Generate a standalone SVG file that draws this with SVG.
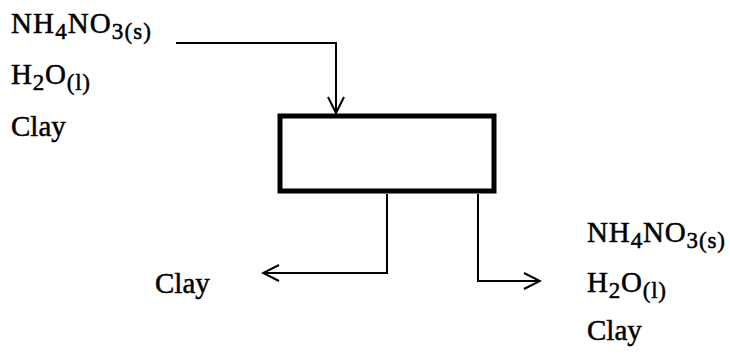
<svg xmlns="http://www.w3.org/2000/svg" width="730" height="360" viewBox="0 0 730 360">
  <defs>
    <style>
      .lbl { font-family: "Liberation Serif", "Times New Roman", serif; font-size: 29px; fill: #000; stroke: #000; stroke-width: 0.5; }
      .sub { font-size: 23px; }
      .flow { fill: none; stroke: #000; stroke-width: 2; }
      .unit { fill: #fff; stroke: #000; stroke-width: 5; }
    </style>
    <marker id="arrow" viewBox="0 0 20 20" refX="18" refY="10" markerWidth="20" markerHeight="20" markerUnits="userSpaceOnUse" orient="auto">
      <path d="M2,2 L18,10 L2,18" fill="none" stroke="#000" stroke-width="2"/>
    </marker>
  </defs>

  <rect width="730" height="360" fill="#fff"/>

  <!-- feed stream labels -->
  <g id="feed">
    <text class="lbl" x="11" y="33" textLength="140" lengthAdjust="spacing">NH<tspan class="sub" dy="6">4</tspan><tspan dy="-6">NO</tspan><tspan class="sub" dy="6">3(s)</tspan></text>
    <text class="lbl" x="11" y="84" textLength="79" lengthAdjust="spacing">H<tspan class="sub" dy="6">2</tspan><tspan dy="-6">O</tspan><tspan class="sub" dy="6">(l)</tspan></text>
    <text class="lbl" x="11" y="136">Clay</text>
  </g>

  <!-- process unit -->
  <g id="unit">
    <rect class="unit" x="280" y="116" width="214" height="75"/>
  </g>

  <!-- clay product -->
  <g id="clay-out">
    <text class="lbl" x="155" y="293">Clay</text>
  </g>

  <!-- mixed product -->
  <g id="mix-out">
    <text class="lbl" x="587" y="242" textLength="138" lengthAdjust="spacing">NH<tspan class="sub" dy="6">4</tspan><tspan dy="-6">NO</tspan><tspan class="sub" dy="6">3(s)</tspan></text>
    <text class="lbl" x="587" y="292" textLength="79" lengthAdjust="spacing">H<tspan class="sub" dy="6">2</tspan><tspan dy="-6">O</tspan><tspan class="sub" dy="6">(l)</tspan></text>
    <text class="lbl" x="587" y="340">Clay</text>
  </g>

  <!-- connectors -->
  <g id="connectors">
    <path class="flow" d="M176,43 H336 V113" marker-end="url(#arrow)"/>
    <path class="flow" d="M387,194 V273 H263" marker-end="url(#arrow)"/>
    <path class="flow" d="M478,194 V281 H540" marker-end="url(#arrow)"/>
  </g>
</svg>
